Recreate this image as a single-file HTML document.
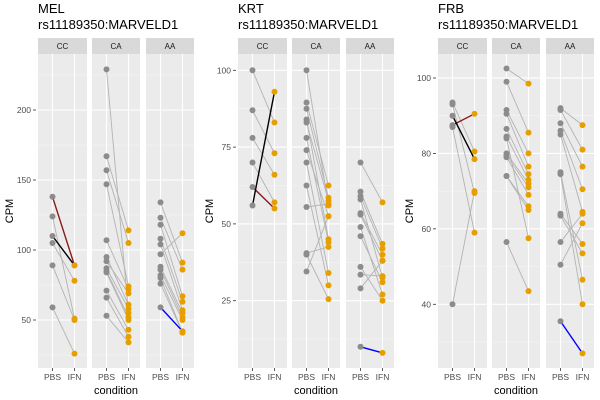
<!DOCTYPE html>
<html><head><meta charset="utf-8"><style>
body{margin:0;background:#fff;}
svg{display:block;font-family:"Liberation Sans",sans-serif;}
</style></head><body>
<svg id="c" width="600" height="400"></svg>
<script>
// Data: paired PBS -> IFN values per panel/facet
const panelNames = ["MEL","KRT","FRB"];
const facetNames = ["CC","CA","AA"];
const melPBS = [[138,110,124,105,89,59],[229,167,157,147,107,95,92,87,85,84,71,66,53],[134,123,118,108,104,97,88,86,82,80,76,59]];
const melIFN = [[89,89,51,78,50,26],[55,114,105,74,72,61,69,58,52,50,43,38,34],[91,86,67,63,57,112,55,52,50,41,41,42]];
const krtPBS = [[62,56,100,87,78,70],[100,89.5,87.5,84,83,78,74,70,62.5,55.5,40.5,40,34.5],[70,60.5,59,58,53.5,53,49,46,36,33.5,29,10]];
const krtIFN = [[55,93,83,73,66,57],[56,62.5,58.5,45,57.5,44,52.5,34,30,56.5,42.5,25.5,52.5],[57,43.5,42,32.5,40,38,27,31,25,33,38,8]];
const frbPBS = [[87.5,90,93.5,93,87,40],[102.5,99,91.5,90.5,86.5,84.5,84,80,79.5,79,74,74,56.5],[92,91.5,88,86,85,75,74.5,64,63.5,56.5,50.5,35.5]];
const frbIFN = [[90.5,78.5,80.5,69.5,59,70],[98.5,85.5,80,76.5,74.5,73,57.5,72,71,69,66,65,43.5],[87.5,81,76.5,70.5,64.5,46.5,40,56,53.5,64,61.5,27]];
// highlight: [facet, index, colour]
const highlights = [[[0,0,"#8B1A1A"],[0,1,"#000000"],[2,11,"#0000FF"]],[[0,0,"#8B1A1A"],[0,1,"#000000"],[2,11,"#0000FF"]],[[0,0,"#8B1A1A"],[0,1,"#000000"],[2,11,"#0000FF"]]];
const melTicks=[50,100,150,200], krtTicks=[25,50,75,100], frbTicks=[40,60,80,100];

const svg=document.getElementById('c');const NS="http://www.w3.org/2000/svg";
function mk(t,a,p){const e=document.createElementNS(NS,t);for(const k in a)e.setAttribute(k,a[k]);(p||svg).appendChild(e);return e;}
const cfg=[
 {ox:0,pbs:melPBS,ifn:melIFN,ticks:melTicks,v0:50,p0:320,ppu:1.4},
 {ox:200,pbs:krtPBS,ifn:krtIFN,ticks:krtTicks,v0:25,p0:300.7,ppu:3.072},
 {ox:400,pbs:frbPBS,ifn:frbIFN,ticks:frbTicks,v0:40,p0:304.3,ppu:3.772}];
const fx=[[38,87],[92,140],[146,194]];
const plotTop=54,plotBot=368;
cfg.forEach((c,pi)=>{
 const g=mk('g',{transform:`translate(${c.ox},0)`});
 
 
 const y=v=>c.p0-(v-c.v0)*c.ppu;
 let t=mk('text',{x:38,y:13,'font-size':13,fill:'#000'},g);t.textContent=panelNames[pi];
 
 t=mk('text',{x:38,y:29,'font-size':13,fill:'#000'},g);t.textContent='rs11189350:MARVELD1';
 
 t=mk('text',{x:0,y:0,'font-size':11,fill:'#000','text-anchor':'middle',transform:`translate(13,${(plotTop+plotBot)/2}) rotate(-90)`},g);t.textContent='CPM';
 
 const step=c.ticks[1]-c.ticks[0];
 c.ticks.forEach(v=>{const yy=y(v);
  const l=mk('text',{x:31,y:yy+3,'font-size':8.5,fill:'#4d4d4d','text-anchor':'end'},g);l.textContent=v;
  
  mk('line',{x1:33,x2:36,y1:yy,y2:yy,stroke:'#333','stroke-width':0.8},g);});
 fx.forEach((f,fi)=>{
  const fg=mk('g',{},g);
  
  
  mk('rect',{x:f[0],y:38,width:f[1]-f[0],height:16,fill:'#D9D9D9'},fg);
  const st=mk('text',{x:(f[0]+f[1])/2,y:49,'font-size':8,fill:'#1a1a1a','text-anchor':'middle'},fg);st.textContent=facetNames[fi];
  
  mk('rect',{x:f[0],y:plotTop,width:f[1]-f[0],height:plotBot-plotTop,fill:'#EBEBEB'},fg);
  for(let v=c.ticks[0]-step*2;v<=c.ticks[c.ticks.length-1]+step*2;v+=step/2){const yy=y(v);if(yy<plotTop||yy>plotBot)continue;
   const major=c.ticks.includes(v);
   mk('line',{x1:f[0],x2:f[1],y1:yy,y2:yy,stroke:major?'#fff':'#F5F5F5','stroke-width':major?1.1:0.6},fg);}
  const xp=f[0]+14.5,xi=f[0]+36.5;
  [xp,xi].forEach((xx,k)=>{mk('line',{x1:xx,x2:xx,y1:plotTop,y2:plotBot,stroke:'#fff','stroke-width':1.1},fg);
   mk('line',{x1:xx,x2:xx,y1:plotBot,y2:plotBot+3,stroke:'#333','stroke-width':0.8},g);
   const xl=mk('text',{x:xx,y:380,'font-size':8.5,fill:'#4d4d4d','text-anchor':'middle'},g);xl.textContent=k?'IFN':'PBS';
   });
  const P=c.pbs[fi],I=c.ifn[fi];const hl=highlights[pi].filter(h=>h[0]===fi);
  P.forEach((v,i)=>{const h=hl.find(q=>q[1]===i);if(h)return;
   const ln=mk('line',{x1:xp,y1:y(v),x2:xi,y2:y(I[i]),stroke:'#B3B3B3','stroke-width':0.9},fg);
   });
  hl.forEach(h=>{const i=h[1];const ln=mk('line',{x1:xp,y1:y(P[i]),x2:xi,y2:y(I[i]),stroke:h[2],'stroke-width':1.4},fg);
   });
  P.forEach(v=>{const p=mk('circle',{cx:xp,cy:y(v),r:3,fill:'#8C8C8C'},fg);
   });
  I.forEach(v=>{const p=mk('circle',{cx:xi,cy:y(v),r:3,fill:'#E69F00'},fg);
   });
 });
 const xt=mk('text',{x:116,y:394,'font-size':11,fill:'#000','text-anchor':'middle'},g);xt.textContent='condition';
 
});
</script>
</body></html>
